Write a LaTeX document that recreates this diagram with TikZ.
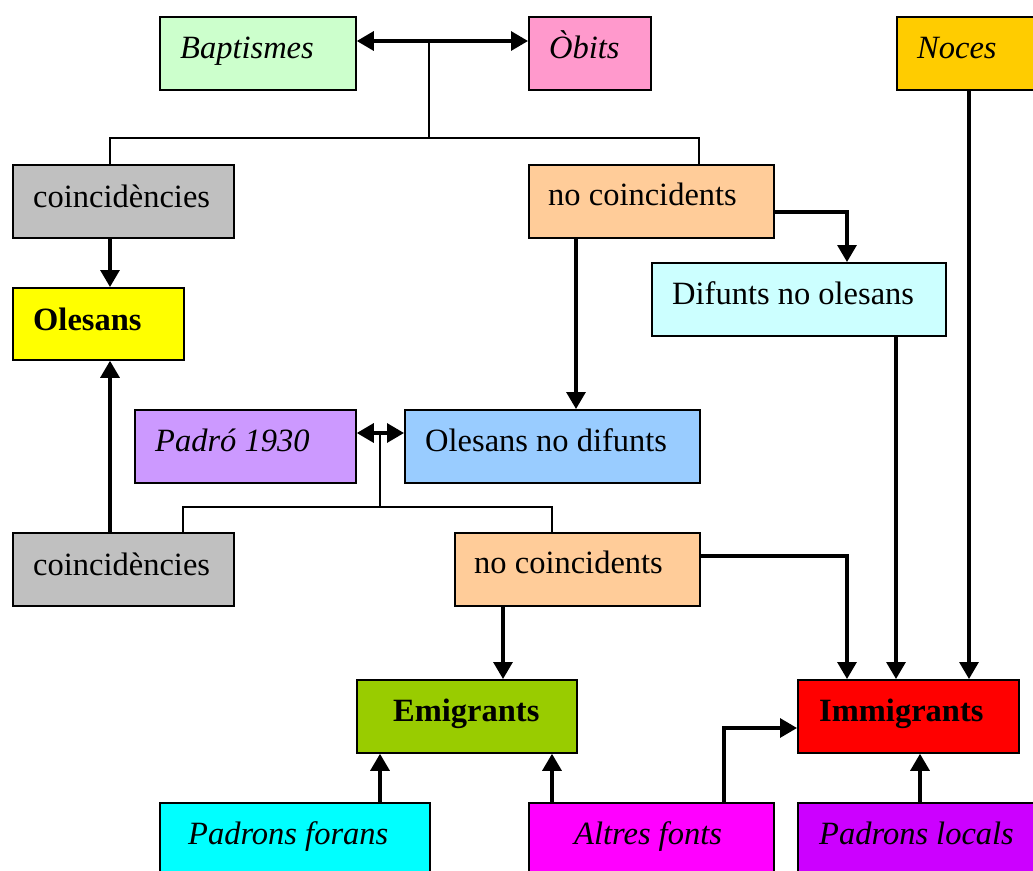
\documentclass[tikz,border=0pt]{standalone}
\usepackage{fontspec}
\setmainfont{Liberation Serif}
\usetikzlibrary{arrows.meta,calc}
\definecolor{cBap}{HTML}{CCFFCC}
\definecolor{cObi}{HTML}{FF99CC}
\definecolor{cNoc}{HTML}{FFCC00}
\definecolor{cGray}{HTML}{C0C0C0}
\definecolor{cPeach}{HTML}{FFCC99}
\definecolor{cYel}{HTML}{FFFF00}
\definecolor{cDif}{HTML}{CCFFFF}
\definecolor{cPad}{HTML}{CC99FF}
\definecolor{cOld}{HTML}{99CCFF}
\definecolor{cEmi}{HTML}{99CC00}
\definecolor{cImm}{HTML}{FF0000}
\definecolor{cPfo}{HTML}{00FFFF}
\definecolor{cAlt}{HTML}{FF00FF}
\definecolor{cPlo}{HTML}{CC00FF}
\begin{document}
\begin{tikzpicture}[x=1pt,y=-1pt,
 box/.style={draw=black, line width=1.8pt, inner sep=0pt, anchor=north west, minimum height=73pt},
 txt/.style={anchor=base west, inner sep=0pt, font=\fontsize{32.5}{39}\selectfont},
 ln/.style={line width=2pt},
 arr/.style={line width=3.2pt, -{Triangle[length=17pt,width=19pt]}},
 dbl/.style={line width=3.2pt, {Triangle[length=17pt,width=19pt]}-{Triangle[length=17pt,width=19pt]}}]
\useasboundingbox (0,0) rectangle (1033,870);
\clip (0,0) rectangle (1033,870);
% boxes
\node[box, fill=cBap, minimum width=196pt] (bap) at (159,16) {};
\node[box, fill=cObi, minimum width=122pt] (obi) at (528,16) {};
\node[box, fill=cNoc, minimum width=170pt] (noc) at (896,16) {};
\node[box, fill=cGray, minimum width=221pt] (co1) at (12,164) {};
\node[box, fill=cPeach, minimum width=245pt] (nc1) at (528,164) {};
\node[box, fill=cYel, minimum width=171pt, minimum height=72pt] (ole) at (12,287) {};
\node[box, fill=cDif, minimum width=294pt] (dif) at (651,262) {};
\node[box, fill=cPad, minimum width=221pt] (pad) at (134,409) {};
\node[box, fill=cOld, minimum width=295pt] (old) at (404,409) {};
\node[box, fill=cGray, minimum width=221pt] (co2) at (12,532) {};
\node[box, fill=cPeach, minimum width=245pt] (nc2) at (454,532) {};
\node[box, fill=cEmi, minimum width=220pt] (emi) at (356,679) {};
\node[box, fill=cImm, minimum width=221pt] (imm) at (797,679) {};
\node[box, fill=cPfo, minimum width=270pt, minimum height=90pt] (pfo) at (159,802) {};
\node[box, fill=cAlt, minimum width=245pt, minimum height=90pt] (alt) at (528,802) {};
\node[box, fill=cPlo, minimum width=260pt, minimum height=90pt] (plo) at (797,802) {};
% texts
\node[txt] (tbap) at (180,58) {\itshape Baptismes};
\node[txt] (tobi) at (549,58) {\itshape Òbits};
\node[txt] (tnoc) at (917,58) {\itshape Noces};
\node[txt] (tco1) at (33,207) {coincidències};
\node[txt] (tnc1) at (548,205) {no coincidents};
\node[txt] (tole) at (33,330) {\bfseries Olesans};
\node[txt] (tdif) at (672,304) {Difunts no olesans};
\node[txt] (tpad) at (155,451) {\itshape Padró 1930};
\node[txt] (told) at (425,451) {Olesans no difunts};
\node[txt] (tco2) at (33,575) {coincidències};
\node[txt] (tnc2) at (474,573) {no coincidents};
\node[txt] (temi) at (393,721) {\bfseries Emigrants};
\node[txt] (timm) at (819,721) {\bfseries Immigrants};
\node[txt] (tpfo) at (188,844) {\itshape Padrons forans};
\node[txt] (talt) at (574,844) {\itshape Altres fonts};
\node[txt] (tplo) at (819,844) {\itshape Padrons locals};
% guide coordinates
\coordinate (xa) at (429,0); \coordinate (xb) at (110,0); \coordinate (xc) at (699,0);
\coordinate (xd) at (576,0); \coordinate (xe) at (847,0); \coordinate (xf) at (896,0);
\coordinate (xg) at (969,0); \coordinate (xh) at (380,0); \coordinate (xi) at (183,0);
\coordinate (xj) at (552,0); \coordinate (xk) at (503,0); \coordinate (xl) at (724,0);
\coordinate (xm) at (920,0);
\coordinate (ya) at (0,41); \coordinate (yb) at (0,138); \coordinate (yc) at (0,212);
\coordinate (yd) at (0,433); \coordinate (ye) at (0,507); \coordinate (yf) at (0,556);
\coordinate (yg) at (0,728);
% connectors
\draw[ln] (xa |- ya) -- (xa |- yb);
\draw[ln] (co1.north -| xb) -- (xb |- yb) -- (xc |- yb) -- (nc1.north -| xc);
\draw[dbl] (bap.east |- ya) -- (obi.west |- ya);
\draw[arr] (co1.south -| xb) -- (ole.north -| xb);
\draw[arr] (nc1.south -| xd) -- (old.north -| xd);
\draw[arr] (nc1.east |- yc) -- (xe |- yc) -- (dif.north -| xe);
\draw[arr] (dif.south -| xf) -- (imm.north -| xf);
\draw[arr] (noc.south -| xg) -- (imm.north -| xg);
\draw[ln] (xh |- yd) -- (xh |- ye);
\draw[ln] (co2.north -| xi) -- (xi |- ye) -- (xj |- ye) -- (nc2.north -| xj);
\draw[dbl] (pad.east |- yd) -- (old.west |- yd);
\draw[arr] (co2.north -| xb) -- (ole.south -| xb);
\draw[arr] (nc2.south -| xk) -- (emi.north -| xk);
\draw[arr] (nc2.east |- yf) -- (xe |- yf) -- (imm.north -| xe);
\draw[arr] (pfo.north -| xh) -- (emi.south -| xh);
\draw[arr] (alt.north -| xj) -- (emi.south -| xj);
\draw[arr] (alt.north -| xl) -- (xl |- yg) -- (imm.west |- yg);
\draw[arr] (plo.north -| xm) -- (imm.south -| xm);
\end{tikzpicture}
\end{document}
